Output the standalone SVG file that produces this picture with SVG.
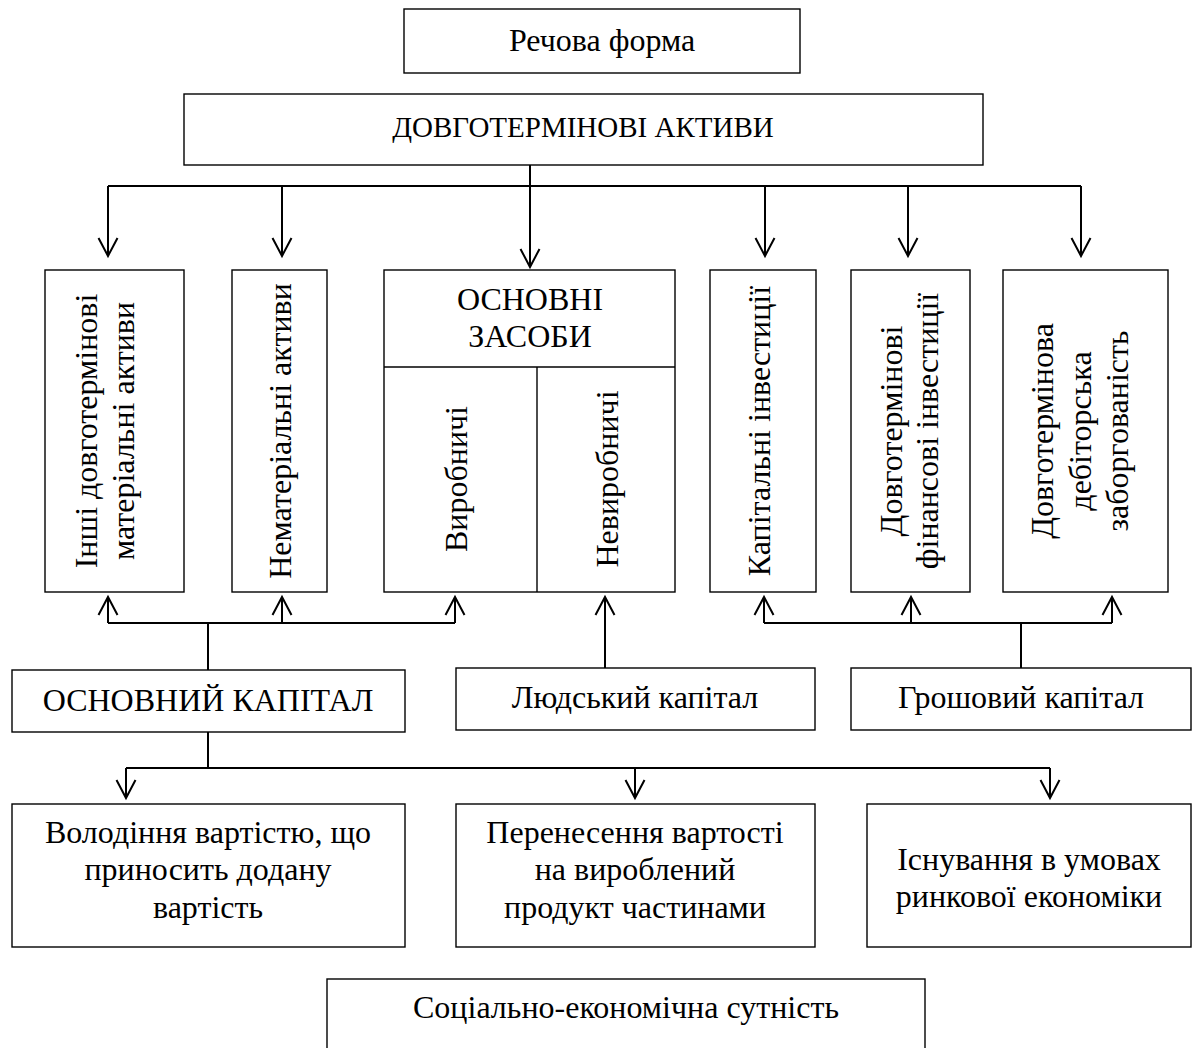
<svg xmlns="http://www.w3.org/2000/svg" width="1193" height="1048" viewBox="0 0 1193 1048">
<style>
.box{fill:#fff;stroke:#000;stroke-width:1.4}
.t{font-family:"Liberation Serif","Times New Roman",serif;font-size:32px;fill:#000;text-anchor:middle}
.c{fill:none;stroke:#000;stroke-width:2}
.ca{fill:none;stroke:#000;stroke-width:2;marker-end:url(#arr)}
</style>
<defs>
<marker id="arr" markerUnits="userSpaceOnUse" viewBox="-20 -12 22 24" refX="0" refY="0" markerWidth="22" markerHeight="24" orient="auto" overflow="visible">
<path d="M-18,-9.5 L0,0 L-18,9.5" fill="none" stroke="#000" stroke-width="2"/>
</marker>
</defs>
<rect width="1193" height="1048" fill="#fff"/>
<g id="connectors">
<path class="ca" d="M530,165 V267"/>
<path class="c" d="M108,186 H1081"/>
<path class="ca" d="M108,186 V256"/>
<path class="ca" d="M282,186 V256"/>
<path class="ca" d="M765,186 V256"/>
<path class="ca" d="M908,186 V256"/>
<path class="ca" d="M1081,186 V256"/>
<path class="c" d="M208,670 V623 M108,623 H455"/>
<path class="ca" d="M108,623 V597"/>
<path class="ca" d="M282,623 V597"/>
<path class="ca" d="M455,623 V597"/>
<path class="ca" d="M605,668 V597"/>
<path class="c" d="M1021,668 V623 M764,623 H1112"/>
<path class="ca" d="M764,623 V597"/>
<path class="ca" d="M911,623 V597"/>
<path class="ca" d="M1112,623 V597"/>
<path class="c" d="M208,732 V768 M126,768 H1050"/>
<path class="ca" d="M126,768 V798"/>
<path class="ca" d="M635,768 V798"/>
<path class="ca" d="M1050,768 V798"/>
</g>
<g id="n-rechova"><rect class="box" x="404" y="9" width="396" height="64"/><text class="t" x="602" y="51">Речова форма</text></g>
<g id="n-dovhotermin"><rect class="box" x="184" y="94" width="799" height="71"/><text class="t" x="583" y="137" style="font-size:29px">ДОВГОТЕРМІНОВІ АКТИВИ</text></g>
<g id="n-inshi"><rect class="box" x="45" y="270" width="139" height="322"/>
<text class="t" transform="translate(97,431) rotate(-90)">Інші довготермінові</text>
<text class="t" transform="translate(134,431) rotate(-90)">матеріальні активи</text></g>
<g id="n-nemat"><rect class="box" x="232" y="270" width="95" height="322"/>
<text class="t" transform="translate(291,431) rotate(-90)">Нематеріальні активи</text></g>
<g id="n-osnovni"><rect class="box" x="384" y="270" width="291" height="322"/>
<line x1="384" y1="367" x2="675" y2="367" stroke="#000" stroke-width="1.4"/>
<line x1="537" y1="367" x2="537" y2="592" stroke="#000" stroke-width="1.4"/>
<text class="t" x="530" y="310">ОСНОВНІ</text><text class="t" x="530" y="347">ЗАСОБИ</text>
<text class="t" transform="translate(467,479) rotate(-90)">Виробничі</text>
<text class="t" transform="translate(618,479) rotate(-90)">Невиробничі</text></g>
<g id="n-kapinv"><rect class="box" x="710" y="270" width="106" height="322"/>
<text class="t" transform="translate(770,431) rotate(-90)">Капітальні інвестиції</text></g>
<g id="n-finnv"><rect class="box" x="851" y="270" width="119" height="322"/>
<text class="t" transform="translate(902,431) rotate(-90)">Довготермінові</text>
<text class="t" transform="translate(938,431) rotate(-90)">фінансові інвестиції</text></g>
<g id="n-debit"><rect class="box" x="1003" y="270" width="165" height="322"/>
<text class="t" transform="translate(1053,431) rotate(-90)">Довготермінова</text>
<text class="t" transform="translate(1091,431) rotate(-90)">дебіторська</text>
<text class="t" transform="translate(1128,431) rotate(-90)">заборгованість</text></g>
<g id="n-oskap"><rect class="box" x="12" y="670" width="393" height="62"/><text class="t" x="208" y="711">ОСНОВНИЙ КАПІТАЛ</text></g>
<g id="n-ludkap"><rect class="box" x="456" y="668" width="359" height="62"/><text class="t" x="635" y="708">Людський капітал</text></g>
<g id="n-groshkap"><rect class="box" x="851" y="668" width="340" height="62"/><text class="t" x="1021" y="708">Грошовий капітал</text></g>
<g id="n-volod"><rect class="box" x="12" y="804" width="393" height="143"/>
<text class="t" x="208" y="843">Володіння вартістю, що</text><text class="t" x="208" y="880">приносить додану</text><text class="t" x="208" y="918">вартість</text></g>
<g id="n-perenes"><rect class="box" x="456" y="804" width="359" height="143"/>
<text class="t" x="635" y="843">Перенесення вартості</text><text class="t" x="635" y="880">на вироблений</text><text class="t" x="635" y="918">продукт частинами</text></g>
<g id="n-isnuv"><rect class="box" x="867" y="804" width="324" height="143"/>
<text class="t" x="1029" y="870">Існування в умовах</text><text class="t" x="1029" y="907">ринкової економіки</text></g>
<g id="n-social"><rect class="box" x="327" y="979" width="598" height="80"/><text class="t" x="626" y="1018">Соціально-економічна сутність</text></g>
</svg>
